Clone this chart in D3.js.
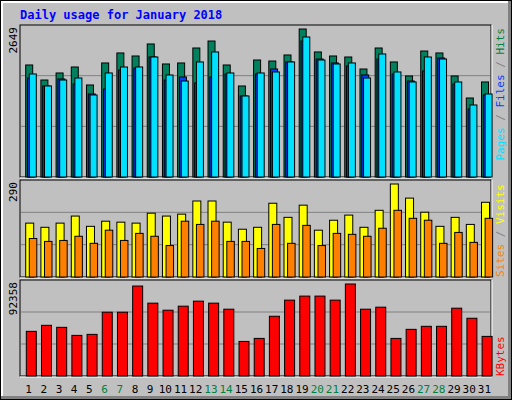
<!DOCTYPE html>
<html><head><meta charset="utf-8">
<script src="https://cdn.jsdelivr.net/npm/d3@7"></script>
<style>body{margin:0;background:#fff}</style>
</head><body>
<svg id="chart" width="512" height="400"></svg>
<script>
const days = d3.range(1, 32);
const weekends = [6, 7, 13, 14, 20, 21, 27, 28];
const hits = [2005,1736,1862,1969,1647,2041,2220,2166,2381,2023,2041,2309,2434,2005,1629,2094,2076,2184,2649,2238,2166,2148,1933,2309,2059,1808,2255,2220,1808,1414,1701];
const files = [1772,1629,1754,1665,1486,1575,1915,1951,2148,1736,1790,1683,1790,1844,1450,1844,1933,2059,2434,2112,2041,1987,1826,2112,1844,1718,1897,2130,1665,1217,1468];
const pages = [1844,1629,1736,1772,1468,1862,1969,1969,2148,1826,1718,2059,2238,1862,1450,1862,1880,2059,2506,2094,2023,2041,1772,2202,1880,1701,2148,2112,1701,1289,1486];
const visits = [168,155,168,190,158,174,171,168,199,190,196,237,237,171,149,155,230,186,224,146,177,193,155,208,290,246,202,158,186,164,233];
const sites = [120,111,114,127,105,146,114,136,127,98,174,164,174,111,111,89,164,105,161,98,136,133,127,152,208,183,177,105,139,108,183];
const kbytes = [44821,50887,48865,40777,41788,64030,64030,90316,73129,66052,70096,75151,73129,67063,34711,37744,59986,76162,80206,80206,76162,92358,67063,69085,37744,46843,49876,49876,68074,57964,39766];

const svg = d3.select("#chart");
const font = "DejaVu Sans Mono, monospace";

// frame
svg.append("rect").attr("x", 0).attr("y", 0).attr("width", 512).attr("height", 400).attr("fill", "#000");
svg.append("rect").attr("x", 1).attr("y", 1).attr("width", 510).attr("height", 398).attr("fill", "#808080");
svg.append("rect").attr("x", 1).attr("y", 1).attr("width", 507).attr("height", 395).attr("fill", "#fff");
svg.append("rect").attr("x", 3).attr("y", 3).attr("width", 505).attr("height", 393).attr("fill", "#c0c0c0");

svg.append("text").attr("x", 20).attr("y", 19).attr("fill", "#0000ff")
    .attr("font-family", font).attr("font-weight", "bold").attr("font-size", 12)
    .text("Daily usage for January 2018");

const x = d3.scaleBand().domain(days).range([20, 491]);
const bw = x.bandwidth();

function panel(top, bottom, maxVal, label) {
    svg.append("rect").attr("x", 20).attr("y", top).attr("width", 471).attr("height", bottom - top)
        .attr("fill", "#c0c0c0").attr("stroke", "#000");
    svg.append("line").attr("x1", 20).attr("x2", 492).attr("y1", bottom + 1).attr("y2", bottom + 1).attr("stroke", "#fff");
    svg.append("line").attr("x1", 492).attr("x2", 492).attr("y1", top).attr("y2", bottom + 1).attr("stroke", "#fff");
    const h = bottom - top;
    [1, 2].forEach(k => svg.append("line").attr("x1", 21).attr("x2", 490)
        .attr("y1", top + h * k / 3).attr("y2", top + h * k / 3).attr("stroke", "#808080"));
    svg.append("text").attr("transform", `translate(17,${top + 2}) rotate(-90)`)
        .attr("text-anchor", "end").attr("font-family", font).attr("font-size", 11).text(label);
    return d3.scaleLinear().domain([0, maxVal]).range([bottom, top + 4]);
}

function bars(data, y, off, w, color) {
    svg.append("g").selectAll("rect").data(data).join("rect")
        .attr("x", (d, i) => x(i + 1) + off).attr("width", w)
        .attr("y", d => y(d)).attr("height", d => y(0) - y(d))
        .attr("fill", color).attr("stroke", "#000");
}

const y1 = panel(25, 177, 2649, "2649");
bars(hits, y1, 5.7, 7, "#00805c");
bars(files, y1, 7.5, 7, "#0040ff");
bars(pages, y1, 9.3, 7, "#00e0ff");

const y2 = panel(180, 277, 290, "290");
bars(visits, y2, 5.7, 8, "#ffff00");
bars(sites, y2, 9.3, 7.5, "#ff8000");

const y3 = panel(280, 376, 92358, "92358");
bars(kbytes, y3, 6.3, 10, "#ff0000");

svg.append("g").selectAll("text").data(days).join("text")
    .attr("x", d => x(d) + bw / 2 + 1).attr("y", 393).attr("text-anchor", "middle")
    .attr("font-family", font).attr("font-size", 11)
    .attr("fill", d => weekends.includes(d) ? "#008040" : "#000").text(d => d);

function sideLabel(yPos, anchor, parts) {
    const t = svg.append("text").attr("transform", `translate(504,${yPos}) rotate(-90)`)
        .attr("text-anchor", anchor).attr("font-family", font).attr("font-size", 11);
    parts.forEach(([s, c]) => t.append("tspan").attr("fill", c).text(s));
}
sideLabel(28, "end", [["Pages", "#00e0ff"], [" / ", "#808080"], ["Files", "#0040ff"], [" / ", "#808080"], ["Hits", "#008040"]]);
sideLabel(277, "start", [["Sites", "#ff8000"], [" / ", "#808080"], ["Visits", "#ffff00"]]);
sideLabel(376, "start", [["KBytes", "#ff0000"]]);
</script>
</body></html>
